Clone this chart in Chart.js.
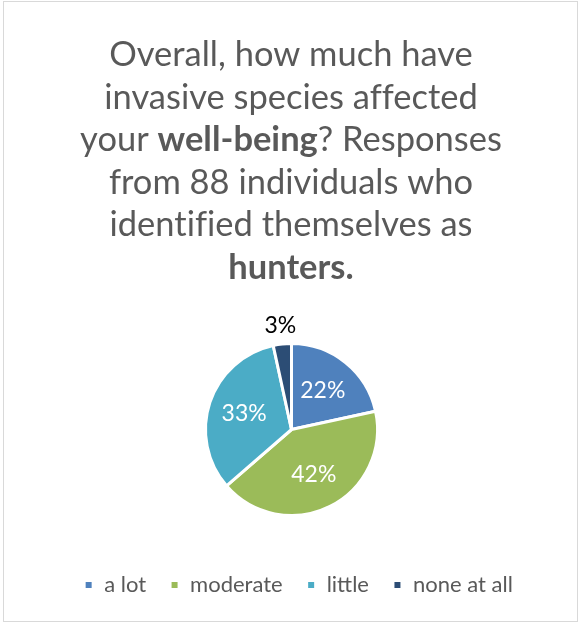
<!DOCTYPE html>
<html>
<head>
<meta charset="utf-8">
<script src="https://cdn.jsdelivr.net/npm/chart.js@4.4.1/dist/chart.umd.min.js"></script>
<style>
  html, body { margin: 0; padding: 0; background: #fff; }
  #wrap { position: relative; width: 580px; height: 624px; }
  #frame {
    position: absolute; left: 3px; top: 1px; width: 573px; height: 619px;
    border: 1px solid #d9d9d9; pointer-events: none;
  }
</style>
</head>
<body>
<div id="wrap">
  <canvas id="pieChart" width="580" height="624"></canvas>
  <div id="frame"></div>
</div>
<script>
// Survey answers (88 hunters)
const categories = ['a lot', 'moderate', 'little', 'none at all'];
const responses = [19, 37, 29, 3];
const sliceColors = ['#4F81BD', '#9BBB59', '#4BACC6', '#2C4D75'];

// Title runs, one array per line; bold parts flagged
const titleLines = [
    [{ t: 'Overall, how much have' }],
    [{ t: 'invasive species affected' }],
    [{ t: 'your ' }, { t: 'well-being', b: true }, { t: '? Responses' }],
    [{ t: 'from 88 individuals who' }],
    [{ t: 'identified themselves as' }],
    [{ t: 'hunters.', b: true }]
];

const FONT = "Lato, 'Open Sans', sans-serif";
const GREY = '#595959';

// Draws the multi-style title in the top padding
const richTitle = {
    id: 'richTitle',
    afterDraw(chart) {
        const ctx = chart.ctx;
        ctx.save();
        // tiny spacing keeps "fi"/"ff" as separate letters, like the original
        ctx.letterSpacing = '0.01px';
        const fontFor = (b, size) => (b ? 'bold ' : '') + size + 'px ' + FONT;
        const lineWidth = (line, size) => line.reduce((w, r) => {
            ctx.font = fontFor(r.b, size);
            return w + ctx.measureText(r.t).width;
        }, 0);

        // fit the widest line to the width seen in the picture
        const size = 30 * 422 / lineWidth(titleLines[2], 30);
        const cx = 291;
        ctx.fillStyle = GREY;
        ctx.textBaseline = 'alphabetic';
        ctx.textAlign = 'left';
        titleLines.forEach((line, i) => {
            let x = cx - lineWidth(line, size) / 2;
            const y = 66 + i * 42.6;
            line.forEach(r => {
                ctx.font = fontFor(r.b, size);
                ctx.fillText(r.t, x, y);
                x += ctx.measureText(r.t).width;
            });
        });
        ctx.restore();
    }
};

// Percent labels: inside the slice in white, small ones outside in black
const sliceLabels = {
    id: 'sliceLabels',
    afterDatasetsDraw(chart) {
        const ctx = chart.ctx;
        const meta = chart.getDatasetMeta(0);
        const data = chart.data.datasets[0].data;
        const total = data.reduce((a, b) => a + b, 0);

        ctx.save();
        ctx.font = '23px ' + FONT;
        ctx.textAlign = 'center';
        ctx.textBaseline = 'middle';
        meta.data.forEach((arc, i) => {
            const { x, y, startAngle, endAngle, outerRadius } = arc.getProps(['x', 'y', 'startAngle', 'endAngle', 'outerRadius'], true);
            const mid = (startAngle + endAngle) / 2;
            const share = data[i] / total;
            const inside = share > 0.08;
            const r = inside ? outerRadius * 0.58 : outerRadius + 19;
            ctx.fillStyle = inside ? '#ffffff' : '#000000';
            ctx.fillText(Math.round(share * 100) + '%', x + Math.cos(mid) * r, y + Math.sin(mid) * r);
        });
        ctx.restore();
    }
};

// The legend sits a little right of the pie in the original
const legendShift = {
    id: 'legendShift',
    afterLayout(chart) {
        chart.legend.left += 7;
        chart.legend.right += 7;
    }
};

new Chart(document.getElementById('pieChart'), {
    type: 'pie',
    data: {
        labels: categories,
        datasets: [{
            data: responses,
            backgroundColor: sliceColors,
            borderColor: '#ffffff',
            borderWidth: 3
        }]
    },
    options: {
        responsive: false,
        animation: false,
        radius: 86,
        layout: { padding: { top: 309, bottom: 18, left: 3, right: 0 } },
        plugins: {
            legend: {
                position: 'bottom',
                labels: {
                    color: GREY,
                    font: { family: FONT, size: 22 },
                    boxWidth: 9,
                    boxHeight: 9,
                    padding: 24
                }
            },
            tooltip: { enabled: false }
        }
    },
    plugins: [richTitle, sliceLabels, legendShift]
});
</script>
</body>
</html>
